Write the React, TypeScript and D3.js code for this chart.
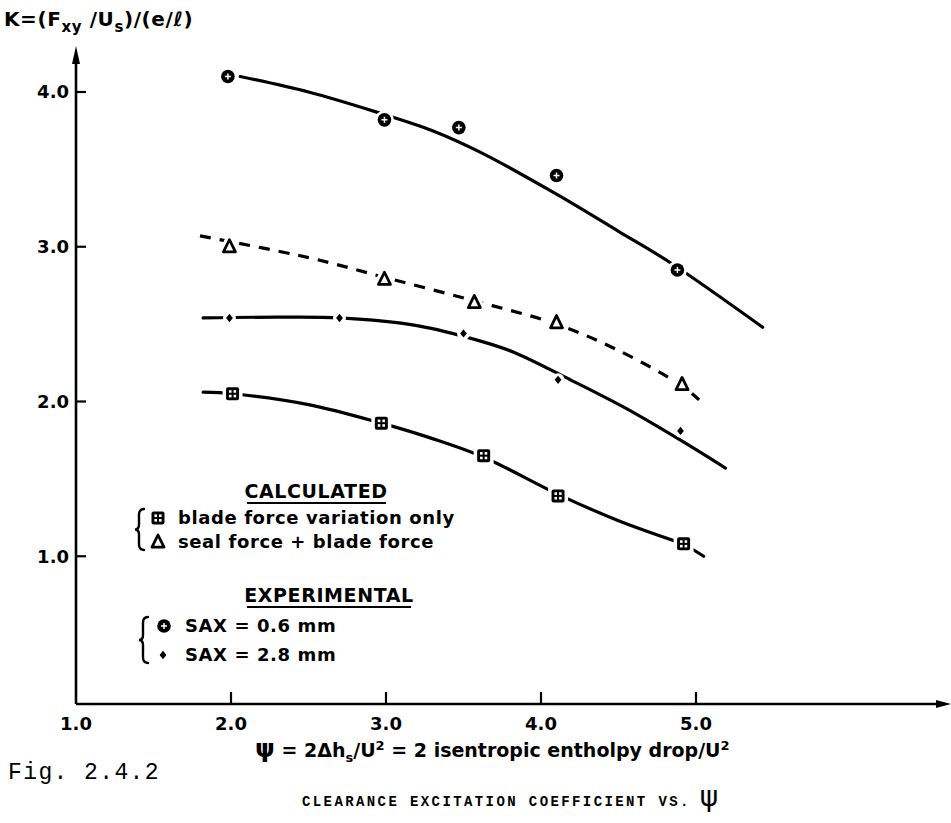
import React from "react";
import * as d3 from "d3";

// Axis ticks
const psiTicks = [1, 2, 3, 4, 5];
const psiTickLabels = ["1.0", "2.0", "3.0", "4.0", "5.0"];
const kTicks = [1, 2, 3, 4];
const kTickLabels = ["1.0", "2.0", "3.0", "4.0"];

// Experimental points, SAX = 0.6 mm
const saxSmallPsi = [1.98, 2.99, 3.47, 4.1, 4.88];
const saxSmallK = [4.1, 3.82, 3.77, 3.46, 2.85];
// Experimental points, SAX = 2.8 mm
const saxLargePsi = [1.99, 2.7, 3.5, 4.11, 4.9];
const saxLargeK = [2.54, 2.54, 2.44, 2.14, 1.81];
// Calculated: blade force variation only
const bladePsi = [2.01, 2.97, 3.63, 4.11, 4.92];
const bladeK = [2.05, 1.86, 1.65, 1.39, 1.08];
// Calculated: seal force + blade force
const sealPsi = [1.99, 2.99, 3.57, 4.1, 4.91];
const sealK = [3.0, 2.79, 2.64, 2.51, 2.11];

// Faired curves through each set
const saxSmallCurvePsi = [2.06, 2.5, 2.94, 3.3, 3.61, 4.1, 4.5, 4.83, 5.43];
const saxSmallCurveK = [4.1, 4.0, 3.87, 3.75, 3.61, 3.34, 3.1, 2.9, 2.48];
const saxLargeCurvePsi = [1.82, 2.3, 2.7, 3.2, 3.61, 3.82, 4.19, 4.54, 4.9, 5.19];
const saxLargeCurveK = [2.54, 2.545, 2.54, 2.49, 2.39, 2.32, 2.14, 1.96, 1.75, 1.57];
const bladeCurvePsi = [1.82, 2.01, 2.5, 2.97, 3.3, 3.63, 4.11, 4.5, 4.92];
const bladeCurveK = [2.06, 2.05, 1.98, 1.86, 1.76, 1.64, 1.4, 1.23, 1.08];
const bladeTailPsi = [4.97, 5.05];
const bladeTailK = [1.05, 1.0];
const sealCurvePsi = [1.8, 2.5, 3.0, 3.57, 4.1, 4.5, 4.91, 5.02];
const sealCurveK = [3.07, 2.93, 2.8, 2.65, 2.5, 2.33, 2.1, 2.01];

const W = 951;
const H = 823;
const axisX = 76;
const axisY = 704;

const x = d3.scaleLinear().domain([1, 6]).range([76, 851]);
const y = d3.scaleLinear().domain([0, 4]).range([711, 92]);

const lineGen = d3
  .line<[number, number]>()
  .x((d) => x(d[0]))
  .y((d) => y(d[1]))
  .curve(d3.curveCatmullRom.alpha(0.5));

const zip = (a: number[], b: number[]): [number, number][] =>
  a.map((v, i) => [v, b[i]]);

const LETTER = "'DejaVu Sans', 'Liberation Sans', sans-serif";
const TYPE = "'Liberation Mono', 'DejaVu Sans Mono', monospace";

function CircleMark({ cx, cy }: { cx: number; cy: number }) {
  return (
    <g transform={`translate(${cx},${cy})`}>
      <circle r={9.5} fill="#fff" />
      <circle r={6.8} fill="#000" />
      <path d="M-3,0H3M0,-3V3" stroke="#fff" strokeWidth={1.5} />
    </g>
  );
}

function BoxMark({ cx, cy }: { cx: number; cy: number }) {
  return (
    <g transform={`translate(${cx},${cy})`}>
      <rect x={-10} y={-10} width={20} height={20} fill="#fff" />
      <rect x={-6.5} y={-6.5} width={13} height={13} rx={2} fill="#000" />
      {[-1, 1].map((i) =>
        [-1, 1].map((j) => (
          <rect
            key={`${i}${j}`}
            x={i * 2.3 - 1.3}
            y={j * 2.3 - 1.3}
            width={2.6}
            height={2.6}
            fill="#fff"
          />
        ))
      )}
    </g>
  );
}

function TriMark({ cx, cy }: { cx: number; cy: number }) {
  const pts = "0,-7 6,5.2 -6,5.2";
  return (
    <g transform={`translate(${cx},${cy})`}>
      <polygon points={pts} fill="#fff" stroke="#fff" strokeWidth={9} strokeLinejoin="round" />
      <polygon points={pts} fill="#fff" stroke="#000" strokeWidth={2.8} strokeLinejoin="round" />
    </g>
  );
}

function DiamondMark({ cx, cy }: { cx: number; cy: number }) {
  return (
    <g transform={`translate(${cx},${cy})`}>
      <circle r={6.5} fill="#fff" />
      <polygon points="0,-4.2 3.4,0 0,4.2 -3.4,0" fill="#000" />
    </g>
  );
}

function Brace({ x0, y0, y1 }: { x0: number; y0: number; y1: number }) {
  const m = (y0 + y1) / 2;
  const d = `M${x0 + 7},${y0} C${x0 + 1},${y0} ${x0 + 2},${y0 + 6} ${x0 + 2},${y0 + 10}
    L${x0 + 2},${m - 5} C${x0 + 2},${m - 1} ${x0},${m} ${x0 - 2},${m}
    C${x0},${m} ${x0 + 2},${m + 1} ${x0 + 2},${m + 5}
    L${x0 + 2},${y1 - 10} C${x0 + 2},${y1 - 6} ${x0 + 1},${y1} ${x0 + 7},${y1}`;
  return <path d={d} fill="none" stroke="#000" strokeWidth={2.4} strokeLinecap="round" />;
}

export default function App() {
  const curveStyle = {
    fill: "none",
    stroke: "#000",
    strokeWidth: 3.2,
    strokeLinecap: "round" as const,
  };
  return (
    <svg width={W} height={H} style={{ position: "absolute", left: 0, top: 0, background: "#fff" }}>
      <rect width={W} height={H} fill="#fff" />

      {/* y axis title */}
      <text x={4} y={26} fontFamily={LETTER} fontWeight="bold" fontSize={20} letterSpacing={0.6}>
        K=(F
        <tspan fontSize={15} dy={6}>xy</tspan>
        <tspan dy={-6}> /U</tspan>
        <tspan fontSize={15} dy={6}>s</tspan>
        <tspan dy={-6}>)/(e/ℓ)</tspan>
      </text>

      {/* axes */}
      <path d={`M${axisX},${axisY}V${58}`} stroke="#000" strokeWidth={2.6} />
      <path d={`M${axisX},${46} L${axisX - 4},${64} L${axisX + 4},${64}Z`} fill="#000" />
      <path d={`M${axisX},${axisY}H${944}`} stroke="#000" strokeWidth={2.6} />
      <path d={`M${951},${axisY} L${936},${axisY - 4} L${936},${axisY + 4}Z`} fill="#000" />

      {kTicks.map((t, i) => (
        <g key={t}>
          <line x1={axisX} x2={axisX + 10} y1={y(t)} y2={y(t)} stroke="#000" strokeWidth={2.2} />
          <text
            x={axisX - 7}
            y={y(t)}
            dy="0.36em"
            textAnchor="end"
            fontFamily={LETTER}
            fontWeight="bold"
            fontSize={18}
          >
            {kTickLabels[i]}
          </text>
        </g>
      ))}
      {psiTicks.map((t, i) => (
        <g key={t}>
          {t > 1 && (
            <line x1={x(t)} x2={x(t)} y1={axisY} y2={axisY - 12} stroke="#000" strokeWidth={2.2} />
          )}
          <text
            x={x(t)}
            y={axisY + 26}
            textAnchor="middle"
            fontFamily={LETTER}
            fontWeight="bold"
            fontSize={18}
          >
            {psiTickLabels[i]}
          </text>
        </g>
      ))}

      {/* x axis title */}
      <text x={255} y={757} fontFamily={LETTER} fontWeight="bold" fontSize={19}>
        <tspan fontSize={25}>ψ</tspan>
        <tspan> = 2Δh</tspan>
        <tspan fontSize={13} dy={5}>s</tspan>
        <tspan dy={-5}>/U</tspan>
        <tspan fontSize={13} dy={-7}>2</tspan>
        <tspan dy={7}> = 2 isentropic entholpy drop/U</tspan>
        <tspan fontSize={13} dy={-7}>2</tspan>
      </text>

      <text x={8} y={779} fontFamily={TYPE} fontSize={23} letterSpacing={1.4}>
        Fig. 2.4.2
      </text>
      <text x={302} y={806} fontFamily={TYPE} fontSize={14} fontWeight="bold" letterSpacing={2.4}>
        CLEARANCE EXCITATION COEFFICIENT VS.
        <tspan fontFamily={LETTER} fontSize={28} fontWeight="normal" letterSpacing={0}> ψ</tspan>
      </text>

      {/* curves */}
      <path d={lineGen(zip(saxSmallCurvePsi, saxSmallCurveK)) ?? ""} {...curveStyle} />
      <path
        d={lineGen(zip(sealCurvePsi, sealCurveK)) ?? ""}
        {...curveStyle}
        strokeDasharray="11 9"
        strokeLinecap="butt"
      />
      <path d={lineGen(zip(saxLargeCurvePsi, saxLargeCurveK)) ?? ""} {...curveStyle} />
      <path d={lineGen(zip(bladeCurvePsi, bladeCurveK)) ?? ""} {...curveStyle} />
      <path d={lineGen(zip(bladeTailPsi, bladeTailK)) ?? ""} {...curveStyle} />

      {/* markers */}
      {saxSmallPsi.map((p, i) => (
        <CircleMark key={`c${i}`} cx={x(p)} cy={y(saxSmallK[i])} />
      ))}
      {sealPsi.map((p, i) => (
        <TriMark key={`t${i}`} cx={x(p)} cy={y(sealK[i])} />
      ))}
      {saxLargePsi.map((p, i) => (
        <DiamondMark key={`d${i}`} cx={x(p)} cy={y(saxLargeK[i])} />
      ))}
      {bladePsi.map((p, i) => (
        <BoxMark key={`b${i}`} cx={x(p)} cy={y(bladeK[i])} />
      ))}

      {/* legend */}
      <g fontFamily={LETTER} fontWeight="bold" fontSize={18} letterSpacing={0.6}>
        <text x={316} y={498} textAnchor="middle" fontSize={19}>CALCULATED</text>
        <line x1={247} x2={386} y1={503} y2={503} stroke="#000" strokeWidth={1.8} />
        <Brace x0={137} y0={509} y1={550} />
        <BoxMark cx={158} cy={518} />
        <text x={178} y={524}>blade force variation only</text>
        <TriMark cx={158} cy={542} />
        <text x={178} y={548}>seal force + blade force</text>

        <text x={329} y={602} textAnchor="middle" fontSize={19}>EXPERIMENTAL</text>
        <line x1={247} x2={411} y1={607} y2={607} stroke="#000" strokeWidth={1.8} />
        <Brace x0={141} y0={617} y1={663} />
        <CircleMark cx={164} cy={626} />
        <text x={185} y={632}>SAX = 0.6 mm</text>
        <DiamondMark cx={163} cy={655} />
        <text x={185} y={661}>SAX = 2.8 mm</text>
      </g>
    </svg>
  );
}
